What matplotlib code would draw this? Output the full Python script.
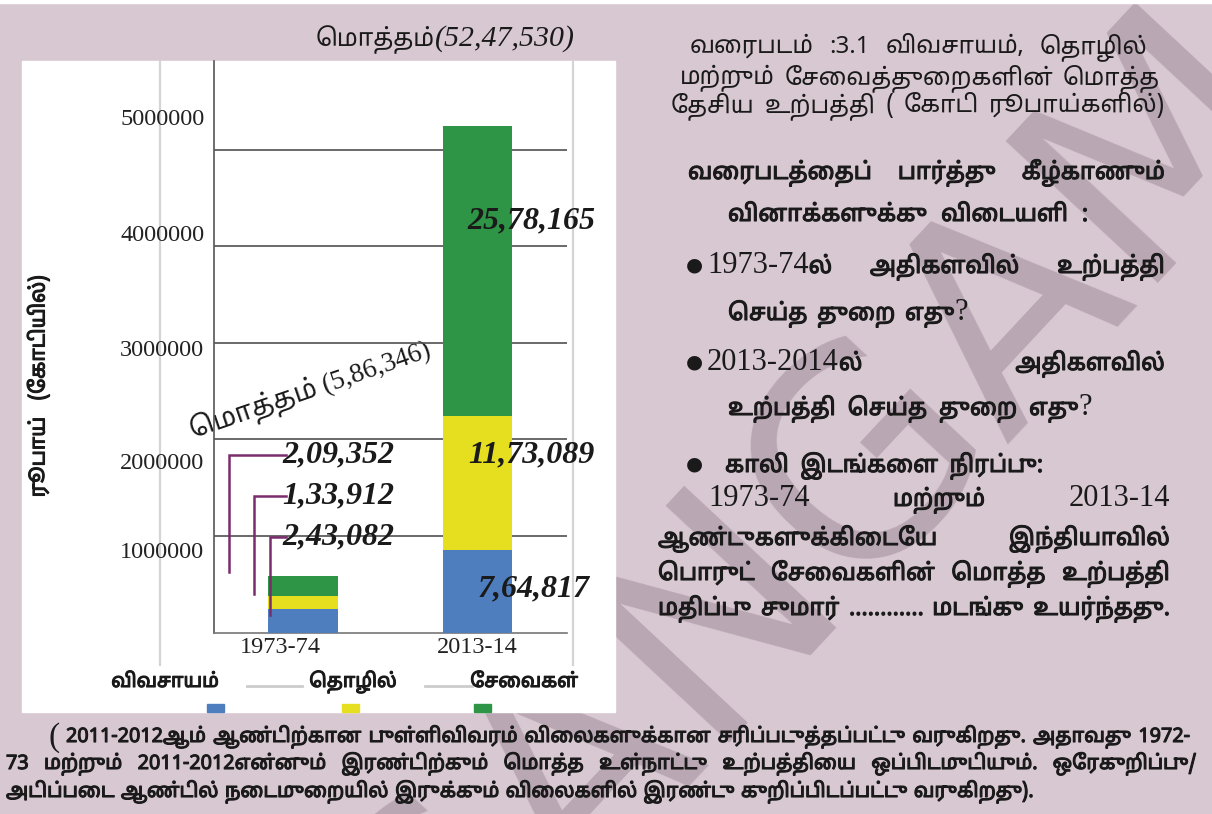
import matplotlib
matplotlib.use("Agg")
import matplotlib.pyplot as plt
from matplotlib.patches import Rectangle
from matplotlib import font_manager, patheffects
from matplotlib.ft2font import FT2Font

# ---- data (values in crore rupees) ----
years = ['1973-74', '2013-14']
sectors = ['விவசாயம்', 'தொழில்', 'சேவைகள்']
agriculture = [243082, 850000]
industry = [133912, 1390000]
services = [209352, 3007530]
agri_labels = ['2,43,082', '7,64,817']
ind_labels = ['1,33,912', '11,73,089']
serv_labels = ['2,09,352', '25,78,165']
totals = ['5,86,346', '52,47,530']
yticks = [1000000, 2000000, 3000000, 4000000, 5000000]
# where the tick numbers were pasted (they sit off the grid lines)
ytick_label_pos = [0.824e6, 1.756e6, 2.927e6, 4.109e6, 5.311e6]
colors = ['#4f7ebe', '#e6df1f', '#2f9546']

# ---- texts ----
title_word = 'மொத்தம்'
ylabel = 'ரூபாய்   (கோடியில்)'
caption = [('வரைபடம் :3.1 விவசாயம், தொழில்', 690, 1147, 53),
           ('மற்றும் சேவைத்துறைகளின் மொத்த', 680, 1160, 84),
           ('தேசிய உற்பத்தி ( கோடி ரூபாய்களில்)', 671, 1165, 112)]
body = [
    ('வரைபடத்தைப் பார்த்து கீழ்காணும்', 688, 1165, 179, False),
    ('வினாக்களுக்கு விடையளி :', 728, 1088, 221, False),
    ('1973-74ல் அதிகளவில் உற்பத்தி', 707, 1165, 273, True),
    ('செய்த துறை எது?', 728, 968, 320, False),
    ('2013-2014ல் அதிகளவில்', 707, 1165, 370, True),
    ('உற்பத்தி செய்த துறை எது?', 728, 1092, 415, False),
    ('காலி இடங்களை நிரப்பு:', 725, 1043, 472, True),
    ('1973-74 மற்றும் 2013-14', 708, 1170, 506, False),
    ('ஆண்டுகளுக்கிடையே இந்தியாவில்', 658, 1170, 545, False),
    ('பொருட் சேவைகளின் மொத்த உற்பத்தி', 658, 1170, 580, False),
    ('மதிப்பு சுமார் ............ மடங்கு உயர்ந்தது.', 658, 1170, 615, False),
]
note = [('2011-2012ஆம் ஆண்டிற்கான புள்ளிவிவரம் விலைகளுக்கான சரிப்படுத்தப்பட்டு வருகிறது. அதாவது 1972-', 66, 1190, 742),
        ('73 மற்றும் 2011-2012என்னும் இரண்டிற்கும் மொத்த உள்நாட்டு உற்பத்தியை ஒப்பிடமுடியும். ஒரேகுறிப்பு/', 6, 1196, 769),
        ('அடிப்படை ஆண்டில் நடைமுறையில் இருக்கும் விலைகளில் இரண்டு குறிப்பிடப்பட்டு வருகிறது).', 6, None, 797)]


def pulli_advance(family, weight='normal'):
    # matplotlib lays glyphs out one by one, so the Tamil font must give
    # its combining marks zero advance or they take their own space
    try:
        fp = font_manager.FontProperties(family=family, weight=weight)
        path = font_manager.findfont(fp, fallback_to_default=False)
        ft = FT2Font(path)
        if 0x0BCD not in ft.get_charmap():
            return 1e9
        return abs(ft.load_char(0x0BCD).linearHoriAdvance)
    except Exception:
        return 1e9


def pick(cands, weight='normal'):
    best, val = cands[-1], 1e9
    for c in cands:
        a = pulli_advance(c, weight)
        if a < val:
            best, val = c, a
    return best


TAMIL = pick(['Mukta Malar', 'Noto Sans Tamil', 'Lohit Tamil', 'Catamaran',
              'Anek Tamil', 'Noto Sans Tamil UI', 'Hind Madurai'], 'semibold')
SERIF = 'Liberation Serif'
INK = '#1a1a1a'
bold = [patheffects.withStroke(linewidth=0.8, foreground=INK)]

# no complex shaping in matplotlib: put the left-side vowel signs in visual order
SPLIT = {'\u0bca': ('\u0bc6', '\u0bbe'), '\u0bcb': ('\u0bc7', '\u0bbe'),
         '\u0bcc': ('\u0bc6', '\u0bd7')}


def visual(s):
    out = []
    for ch in s:
        if ch in '\u0bc6\u0bc7\u0bc8' and out:
            base = out.pop()
            out += [ch, base]
        elif ch in SPLIT and out:
            base = out.pop()
            a, b = SPLIT[ch]
            out += [a, base, b]
        else:
            out.append(ch)
    return ''.join(out)


fig = plt.figure(figsize=(12.12, 8.14), dpi=100)
fig.patch.set_facecolor('#d8c8d2')

# page axes in pixel units
page = fig.add_axes([0, 0, 1, 1])
page.set_xlim(0, 1212)
page.set_ylim(814, 0)
page.axis('off')
renderer = fig.canvas.get_renderer()

# watermark behind everything
page.text(815, 515, 'SANGAM', fontsize=205, color='#b9a7b3', rotation=47,
          ha='center', va='center', family='DejaVu Sans', zorder=0, clip_on=True)

page.add_patch(Rectangle((0, 0), 1212, 3, color='white', zorder=1))
page.add_patch(Rectangle((22, 61), 593, 651, color='white', zorder=1))
for xv in [160, 573]:
    page.plot([xv, xv], [61, 665], color='#d4d4d4', lw=1.6, zorder=2)


def runs(word, nums):
    out, cur, kind = [], '', None
    for ch in word:
        k = ch in nums
        if kind is not None and k != kind:
            out.append((cur, kind))
            cur = ''
        cur += ch
        kind = k
    out.append((cur, kind))
    return out


def measure(text, props, nums='', num_props=None):
    widths = []
    for w in text.split(' '):
        tot = 0
        for txt, isnum in runs(w, nums):
            p = dict(props)
            if isnum:
                p.update(num_props)
            t = page.text(0, 0, visual(txt), **p)
            tot += t.get_window_extent(renderer).width
            t.remove()
        widths.append(tot)
    return widths


def fit_size(lines, props, start, min_gap, nums='', num_props=None):
    s = start
    while s > 8:
        p = dict(props, fontsize=s)
        ok = True
        for text, x0, x1 in lines:
            ws = measure(text, p, nums, num_props)
            if sum(ws) + (len(ws) - 1) * min_gap > x1 - x0:
                ok = False
                break
        if ok:
            return s
        s -= 0.25
    return s


def put_line(text, x0, x1, y, props, nums='', num_props=None, effects=None):
    groups = []
    for w in text.split(' '):
        items = []
        for txt, isnum in runs(w, nums):
            p = dict(props)
            if isnum:
                p.update(num_props)
            t = page.text(0, y, visual(txt), ha='left', va='baseline', zorder=5,
                          path_effects=None if isnum else effects, **p)
            items.append((t, t.get_window_extent(renderer).width))
        groups.append(items)
    widths = [sum(wd for _, wd in g) for g in groups]
    if x1 is None or len(groups) == 1:
        gap = props.get('fontsize', 12) * 0.45
    else:
        gap = (x1 - x0 - sum(widths)) / (len(groups) - 1)
    x = x0
    for g in groups:
        for t, wd in g:
            t.set_x(x)
            x += wd
        x += gap


# ---- chart ----
ax = fig.add_axes([214 / 1212, (814 - 632.5) / 814, 352.5 / 1212, 571.5 / 814])
ax.set_facecolor('none')
ax.set_xlim(-0.51, 1.51)
ax.set_ylim(0, 5.922e6)
x = [0, 1]
bottom = [0, 0]
for vals, c in zip([agriculture, industry, services], colors):
    ax.bar(x, vals, 0.4, bottom=bottom, color=c, zorder=3)
    bottom = [b + v for b, v in zip(bottom, vals)]
for v in yticks:
    ax.axhline(v, color='#505050', lw=1.2, zorder=2)
for s in ['top', 'right']:
    ax.spines[s].set_visible(False)
ax.spines['left'].set_color('#555555')
ax.spines['left'].set_linewidth(1.2)
ax.spines['bottom'].set_color('#777777')
ax.spines['bottom'].set_linewidth(1.2)
ax.set_xticks([])
ax.set_yticks([])

for v, pos in zip(yticks, ytick_label_pos):
    ax.text(-0.565, pos, '%d' % v, ha='right', va='center', fontsize=17.5,
            family=SERIF, color='#222222', clip_on=False)
for xi, yr, dx in zip(x, years, [-0.13, 0.0]):
    ax.text(xi + dx, -0.16e6, yr, ha='center', va='center', fontsize=17.5,
            family=SERIF, color='#222222', clip_on=False)

# value labels
lab = dict(fontsize=23, family=SERIF, fontweight='bold', style='italic',
           color=INK, zorder=6)
ax.text(1.31, 4.27e6, serv_labels[1], ha='center', va='center', **lab)
ax.text(1.31, 1.84e6, ind_labels[1], ha='center', va='center', **lab)
ax.text(1.32, 0.45e6, agri_labels[1], ha='center', va='center', **lab)
left_labels = [serv_labels[0], ind_labels[0], agri_labels[0]]
lead_y = [1.84e6, 1.415e6, 0.99e6]
lead_x = [-0.425, -0.282, -0.19]
lead_end = [0.627e6, 0.40e6, 0.18e6]
for t, ly, lx, le in zip(left_labels, lead_y, lead_x, lead_end):
    ax.plot([lx, lx, -0.1], [le, ly, ly], color='#7a2d6c', lw=1.8, zorder=4,
            solid_joinstyle='miter')
    ax.text(-0.12, ly, t, ha='left', va='center', **lab)

# totals
put_line(title_word + '(' + totals[1] + ')', 316, None, 46,
         dict(family=TAMIL, fontsize=17.5, color=INK), nums='0123456789,()',
         num_props=dict(family=SERIF, style='italic', fontsize=21.5))
page.text(310, 390, visual('மொத்தம் (' + totals[0] + ')'), rotation=19,
          rotation_mode='anchor', family=[SERIF, TAMIL], fontsize=19.5,
          ha='center', va='center', color=INK, zorder=6)

page.text(38, 386, visual(ylabel), rotation=90, family=TAMIL, fontsize=15,
          ha='center', va='center', color=INK, zorder=5, path_effects=bold)

# legend row
for name, lx in zip(sectors, [165, 353, 524]):
    page.text(lx, 687, visual(name), family=TAMIL, fontsize=14, ha='center',
              va='baseline', color=INK, zorder=5, path_effects=bold)
for x0, x1 in [(247, 302), (425, 472)]:
    page.plot([x0, x1], [686, 686], color='#cccccc', lw=2, zorder=3)
for c, sx in zip(colors, [207, 342, 474]):
    page.add_patch(Rectangle((sx, 704), 17, 8, color=c, zorder=2))

# ---- right column ----
cap = dict(family=TAMIL, color=INK)
cap['fontsize'] = fit_size([(t, x0, x1) for t, x0, x1, _ in caption], cap, 19, 8)
for line, x0, x1, y in caption:
    put_line(line, x0, x1, y, cap)

bod = dict(family=TAMIL, color=INK)
serif_num = dict(family=SERIF, fontsize=22)
bod['fontsize'] = fit_size([(t, x0, x1) for t, x0, x1, _, _ in body], bod, 18.5, 8,
                           nums='0123456789-?', num_props=serif_num)
for line, x0, x1, y, bullet in body:
    if bullet:
        page.text(694, y - 8, '\u25cf', family='DejaVu Sans', fontsize=14,
                  ha='center', va='center', color=INK, zorder=5)
    put_line(line, x0, x1, y, bod, nums='0123456789-?', num_props=serif_num,
             effects=bold)

# ---- footnote ----
nt = dict(family=TAMIL, color=INK)
nt['fontsize'] = fit_size([(t, x0, x1) for t, x0, x1, _ in note[:2]], nt, 15, 7)
page.text(48, 746, '(', family=SERIF, fontsize=24, ha='left', va='baseline',
          color=INK, zorder=5)
for line, x0, x1, y in note:
    put_line(line, x0, x1, y, nt, effects=bold)

fig.savefig('out.png', dpi=100, facecolor=fig.get_facecolor())
